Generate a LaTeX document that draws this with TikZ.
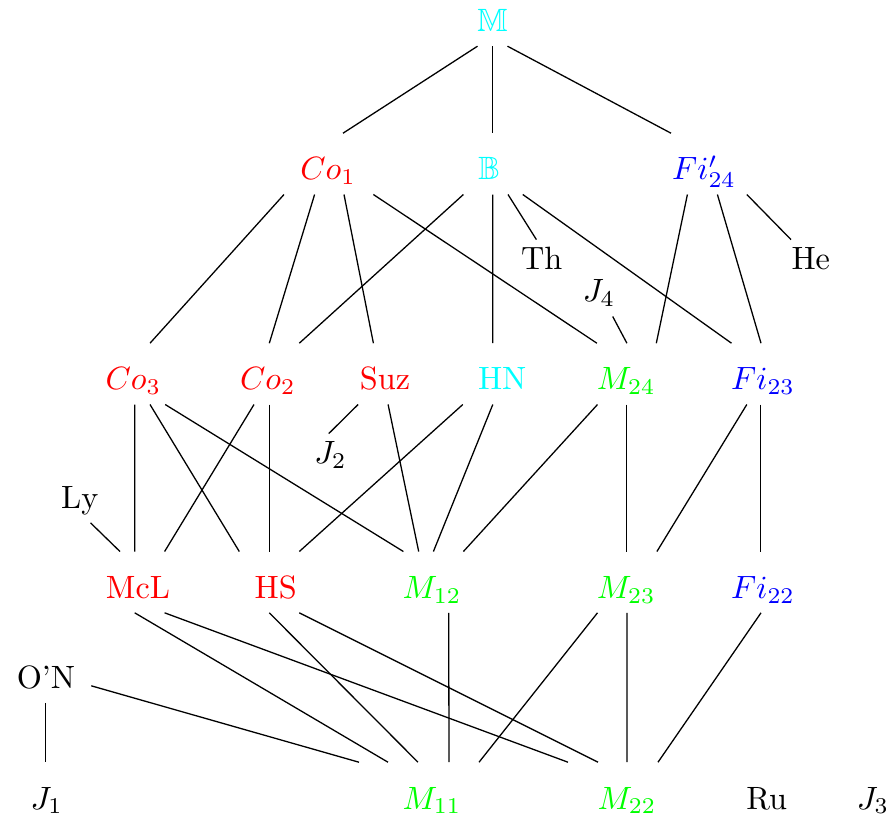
\documentclass[tikz,border=0pt]{standalone}
\usepackage{amsmath, amssymb}
\usepackage{xcolor}
\definecolor{grpcyan}{rgb}{0,1,1}
\definecolor{grpgreen}{rgb}{0,1,0}

\begin{document}
\begin{tikzpicture}[
        % one unit is one pixel of the layout, y runs downwards
        x=0.31pt, y=-0.31pt,
        % Style for the groups on the main rows
        grp/.style={anchor=base, inner xsep=0pt, inner ysep=4.3pt, text height=10pt, text depth=0pt},
        % Style for the groups hanging off to the side
        side/.style={grp, text height=4.7pt}
    ]
    \useasboundingbox (0,0) rectangle (886,815);

    % --- ROW 1 ---
    \node (monster) [grp, grpcyan] at (492.5,31.7) {$\mathbb{M}$};

    % --- ROW 2 ---
    \node (co1) [grp, red] at (328,180) {$Co_1$};
    \node (baby) [grp, grpcyan] at (489,180) {$\mathbb{B}$};
    \node (fi24) [grp, blue] at (704,180) {$Fi'_{24}$};
    \node (th) [side] at (541.7,269.3) {Th};
    \node (he) [side] at (810.8,269.3) {He};
    \node (j4) [side] at (599,302) {$J_4$};

    % --- ROW 3 ---
    \node (co3) [grp, red] at (133.3,390) {$Co_3$};
    \node (co2) [grp, red] at (267.8,390) {$Co_2$};
    \node (suz) [grp, red] at (385,390) {Suz};
    \node (hn) [grp, grpcyan] at (502.2,390) {HN};
    \node (m24) [grp, grpgreen] at (626.2,390) {$M_{24}$};
    \node (fi23) [grp, blue] at (763,390) {$Fi_{23}$};
    \node (j2) [side] at (330.5,463.3) {$J_2$};
    \node (ly) [side] at (79.7,508.3) {Ly};

    % --- ROW 4 ---
    \node (mcl) [grp, red] at (138,598.3) {McL};
    \node (hs) [grp, red] at (275.8,598.3) {HS};
    \node (m12) [grp, grpgreen] at (432,598.3) {$M_{12}$};
    \node (m23) [grp, grpgreen] at (626.2,598.3) {$M_{23}$};
    \node (fi22) [grp, blue] at (763,598.3) {$Fi_{22}$};
    \node (on) [side] at (46,688.4) {O'N};

    % --- ROW 5 ---
    \node (j1) [grp] at (46.7,809) {$J_1$};
    \node (m11) [grp, grpgreen] at (432,809) {$M_{11}$};
    \node (m22) [grp, grpgreen] at (627,809) {$M_{22}$};
    \node (ru) [grp] at (766.7,809) {Ru};
    \node (j3) [grp] at (873,809) {$J_3$};

    % --- lines from row 1 ---
    \draw ([shift={(-15,0)}]monster.south) -- ([shift={(15,0)}]co1.north);
    \draw (monster.south) -- ([shift={(3.5,0)}]baby.north);
    \draw ([shift={(15,0)}]monster.south) -- ([shift={(-33,0)}]fi24.north);

    % --- lines from row 2 ---
    \draw ([shift={(-44,0)}]co1.south) -- ([shift={(16.7,0)}]co3.north);
    \draw ([shift={(-13.4,0)}]co1.south) -- ([shift={(1.5,0)}]co2.north);
    \draw ([shift={(16,0)}]co1.south) -- ([shift={(-11.6,0)}]suz.north);
    \draw ([shift={(45.4,0)}]co1.south) -- ([shift={(-29.3,0)}]m24.north);
    \draw ([shift={(-25.6,0)}]baby.south) -- ([shift={(31.5,0)}]co2.north);
    \draw ([shift={(3.8,0)}]baby.south) -- ([shift={(-9.4,0)}]hn.north);
    \draw ([shift={(19,0)}]baby.south) -- ([shift={(-5.3,0)}]th.north);
    \draw ([shift={(33.8,0)}]baby.south) -- ([shift={(-31.5,0)}]fi23.north);
    \draw ([shift={(-16.6,0)}]fi24.south) -- ([shift={(30.1,0)}]m24.north);
    \draw ([shift={(13.4,0)}]fi24.south) -- ([shift={(-2,0)}]fi23.north);
    \draw ([shift={(42.8,0)}]fi24.south) -- ([shift={(-19.8,0)}]he.north);
    \draw ([shift={(13.7,0)}]j4.south) -- ([shift={(0.7,0)}]m24.north);

    % --- lines from row 3 ---
    \draw ([shift={(1.4,0)}]co3.south) -- ([shift={(-3.3,0)}]mcl.north);
    \draw ([shift={(16.7,0)}]co3.south) -- ([shift={(-36.5,0)}]hs.north);
    \draw ([shift={(31.9,0)}]co3.south) -- ([shift={(-28.6,0)}]m12.north);
    \draw ([shift={(-13.8,0)}]co2.south) -- ([shift={(26.6,0)}]mcl.north);
    \draw ([shift={(1.5,0)}]co2.south) -- ([shift={(-6.5,0)}]hs.north);
    \draw ([shift={(-26.9,0)}]suz.south) -- ([shift={(-1.8,0)}]j2.north);
    \draw ([shift={(3.1,0)}]suz.south) -- ([shift={(-13.3,0)}]m12.north);
    \draw ([shift={(-39.4,0)}]hn.south) -- ([shift={(23.5,0)}]hs.north);
    \draw ([shift={(-9.4,0)}]hn.south) -- ([shift={(1.4,0)}]m12.north);
    \draw ([shift={(-28.7,0)}]m24.south) -- ([shift={(31.4,0)}]m12.north);
    \draw ([shift={(0.5,0)}]m24.south) -- ([shift={(0.5,0)}]m23.north);
    \draw ([shift={(-16.2,0)}]fi23.south) -- ([shift={(30.7,0)}]m23.north);
    \draw ([shift={(-2.3,0)}]fi23.south) -- ([shift={(-2.3,0)}]fi22.north);
    \draw ([shift={(10.8,0)}]ly.south) -- ([shift={(-18,0)}]mcl.north);

    % --- lines from row 4 ---
    \draw ([shift={(-3.3,0)}]mcl.south) -- ([shift={(-44,0)}]m11.north);
    \draw ([shift={(26.6,0)}]mcl.south) -- ([shift={(-59,0)}]m22.north);
    \draw ([shift={(-6.5,0)}]hs.south) -- ([shift={(-14,0)}]m11.north);
    \draw ([shift={(23.5,0)}]hs.south) -- ([shift={(-29,0)}]m22.north);
    \draw ([shift={(16.7,0)}]m12.south) -- ([shift={(17,0)}]m11.north);
    \draw ([shift={(-28.7,0)}]m23.south) -- ([shift={(47,0)}]m11.north);
    \draw ([shift={(0.8,0)}]m23.south) -- (m22.north);
    \draw ([shift={(-2,0)}]fi22.south) -- ([shift={(31,0)}]m22.north);
    \draw ([shift={(15.5,5)}]on.east) -- ([shift={(-73,0)}]m11.north);
    \draw ([shift={(-0.7,0)}]on.south) -- ([shift={(-1.4,0)}]j1.north);

\end{tikzpicture}
\end{document}
